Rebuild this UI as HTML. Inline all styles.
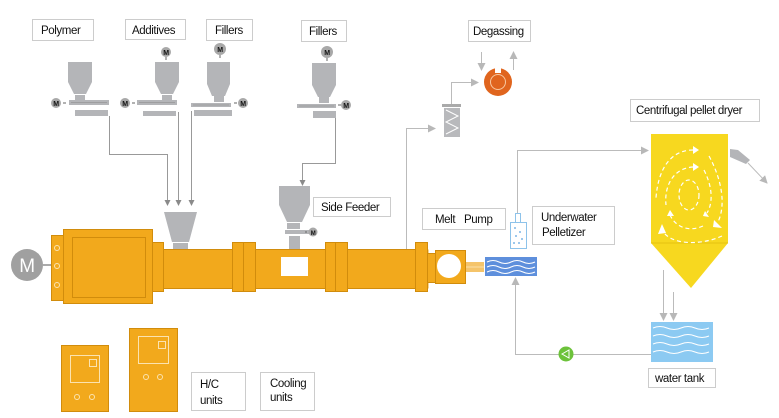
<!DOCTYPE html>
<html><head><meta charset="utf-8"><style>
html,body{margin:0;padding:0;background:#fff;}
svg{display:block;}
text{font-family:"Liberation Sans",sans-serif;font-size:11.5px;fill:#111;letter-spacing:-0.4px;}
</style></head><body>
<svg width="779" height="418" viewBox="0 0 779 418" xmlns="http://www.w3.org/2000/svg">
<defs>
<marker id="ar" markerWidth="6" markerHeight="6" refX="5" refY="3" orient="auto" markerUnits="userSpaceOnUse"><path d="M0,0 L6,3 L0,6 z" fill="#8a8a8a"/></marker>
<marker id="arl" markerWidth="8" markerHeight="8" refX="7" refY="4" orient="auto" markerUnits="userSpaceOnUse"><path d="M0,0 L8,4 L0,8 z" fill="#b8b8b8"/></marker>
</defs>
<g fill="#fff" stroke="#ccc" stroke-width="1">
<rect x="32.5" y="19.5" width="61" height="21"/>
<rect x="125.5" y="19.5" width="60" height="20"/>
<rect x="206.5" y="19.5" width="46" height="21"/>
<rect x="301.5" y="20.5" width="45" height="21"/>
<rect x="468.5" y="20.5" width="62" height="21"/>
<rect x="630.5" y="99.5" width="129" height="22"/>
<rect x="422.5" y="208.5" width="83" height="21"/>
<rect x="532.5" y="206.5" width="82" height="38"/>
<rect x="313.5" y="197.5" width="77" height="19"/>
<rect x="191.5" y="372.5" width="54" height="38"/>
<rect x="260.5" y="372.5" width="54" height="38"/>
<rect x="648.5" y="368.5" width="67" height="19"/>
</g>
<text x="41" y="34">Polymer</text>
<text x="132" y="34">Additives</text>
<text x="215" y="34">Fillers</text>
<text x="309" y="35">Fillers</text>
<text x="473" y="35">Degassing</text>
<text x="636" y="114">Centrifugal pellet dryer</text>
<text x="435" y="223">Melt</text><text x="464" y="223">Pump</text>
<text x="541" y="221">Underwater</text>
<text x="542" y="236">Pelletizer</text>
<text x="321" y="211">Side Feeder</text>
<text x="200" y="388">H/C</text>
<text x="200" y="404">units</text>
<text x="270" y="387">Cooling</text>
<text x="270" y="401">units</text>
<text x="655" y="382">water tank</text>

<g fill="none" stroke="#999" stroke-width="1">
<path d="M109.5,116 V154.5 H167.5 V205" marker-end="url(#ar)"/>
<path d="M178.5,112 V205" marker-end="url(#ar)"/>
<path d="M191.5,111 V205" marker-end="url(#ar)"/>
<path d="M335.5,118 V163.5 H302.5 V185" marker-end="url(#ar)"/>
</g>
<g fill="#b4b5b8">
<path d="M68,62 H92 V82 L86,94 H74 L68,82 z"/><rect x="75" y="95" width="10" height="5"/><rect x="69" y="100" width="40" height="5"/><rect x="75" y="110" width="33" height="6"/>
<path d="M155,62 H179 V82 L173,94 H161 L155,82 z"/><rect x="162" y="95" width="10" height="5"/><rect x="137" y="100" width="40" height="5"/><rect x="143" y="111" width="33" height="5"/>
<path d="M207,62 H230 V84 L225,96 H212 L207,84 z"/><rect x="214" y="96" width="10" height="6"/><rect x="191" y="103" width="40" height="4"/><rect x="194" y="110" width="38" height="6"/>
<path d="M312,63 H336 V85 L330,97 H318 L312,85 z"/><rect x="319" y="97" width="10" height="6"/><rect x="297" y="104" width="39" height="4"/><rect x="313" y="111" width="23" height="7"/>
<path d="M164,212 H197 L189,242 H172 z"/><rect x="173" y="243" width="15" height="6"/>
<path d="M279,186 H310 V205 L302,222 H287 L279,205 z"/><rect x="287" y="223" width="13" height="6"/><rect x="285" y="230" width="25" height="4"/><rect x="289" y="236" width="11" height="13"/>
</g>
<g stroke="#888" stroke-width="0.6" fill="none">
<path d="M71,102.5 H107 M139,102.5 H175 M193,105 H229 M299,106 H334"/>
</g>
<g font-weight="bold">
<g fill="#a8a8a8"><circle cx="56" cy="103" r="5"/><circle cx="125" cy="103" r="5"/><circle cx="166" cy="52" r="5"/><circle cx="220" cy="49" r="6"/><circle cx="243" cy="103" r="5"/><circle cx="327" cy="52" r="6"/><circle cx="346" cy="105" r="5"/><circle cx="313" cy="232" r="4.5"/></g>
<g text-anchor="middle" fill="#222">
<text x="56" y="106" style="font-size:7px">M</text><text x="125" y="106" style="font-size:7px">M</text><text x="166" y="55" style="font-size:7px">M</text><text x="220" y="52" style="font-size:7px">M</text><text x="243" y="106" style="font-size:7px">M</text><text x="327" y="55" style="font-size:7px">M</text><text x="346" y="108" style="font-size:7px">M</text><text x="313" y="235" style="font-size:6px">M</text>
</g></g>
<g stroke="#666" stroke-width="1"><path d="M63,103 H66 M132,103 H135 M234,103 H237 M338,105 H341 M305,232 H307 M220,55 V58 M166,57 V60 M327,58 V61"/></g>
<g fill="#f2a91c" stroke="#d18c0c" stroke-width="1">
<rect x="51.5" y="235.5" width="12" height="65"/>
<rect x="63.5" y="229.5" width="89" height="74"/>
<rect x="72.5" y="237.5" width="73" height="60" fill="none"/>
<rect x="152.5" y="249.5" width="276" height="39" stroke="none"/>
<rect x="152.5" y="242.5" width="11" height="49"/>
<rect x="232.5" y="242.5" width="23" height="49"/>
<rect x="325.5" y="242.5" width="22" height="49"/>
<rect x="415.5" y="242.5" width="12" height="49"/>
<path d="M243.5,242 V291 M335.5,242 V291 M163.5,249.5 H232.5 M255.5,249.5 H325.5 M347.5,249.5 H415.5 M163.5,288.5 H232.5 M255.5,288.5 H325.5 M347.5,288.5 H415.5" fill="none"/>
<rect x="427.5" y="253.5" width="8" height="29"/>
<rect x="435.5" y="250.5" width="30" height="33"/>
<rect x="61.5" y="345.5" width="47" height="66"/>
<rect x="129.5" y="328.5" width="48" height="83"/>
</g>
<rect x="466" y="262" width="18" height="10" fill="#f5c46a"/>
<path d="M466,267 H484" stroke="#fbe0a8"/>
<rect x="281" y="257" width="27" height="19" fill="#fff"/>
<circle cx="449" cy="266" r="12" fill="#fff"/>
<g fill="none" stroke="#fbe3b0" stroke-width="1">
<circle cx="57" cy="248" r="2.5"/><circle cx="57" cy="266" r="2.5"/><circle cx="57" cy="285" r="2.5"/>
<rect x="70.5" y="355.5" width="29" height="27"/><rect x="89.5" y="359.5" width="7" height="7"/>
<circle cx="77" cy="397" r="2.5"/><circle cx="92" cy="397" r="2.5"/>
<rect x="138.5" y="336.5" width="30" height="27"/><rect x="158.5" y="341.5" width="7" height="7"/>
<circle cx="146" cy="377" r="2.5"/><circle cx="160" cy="377" r="2.5"/>
</g>
<circle cx="27" cy="265" r="16" fill="#a0a0a0"/>
<text x="27" y="272" text-anchor="middle" style="font-size:19px;fill:#fff">M</text>
<path d="M43,265 H51" stroke="#555"/>
<g fill="none" stroke="#bbb" stroke-width="1">
<path d="M406.5,249 V128.5 H435" marker-end="url(#arl)"/>
<path d="M451.5,104 V82.5 H478" marker-end="url(#arl)"/>
<path d="M481.5,52 V70" marker-end="url(#arl)"/>
<path d="M513.5,70 V52" marker-end="url(#arl)"/>
<path d="M517.5,213 V150.5 H648" marker-end="url(#arl)"/>
<path d="M651,354.5 H515.5 V278" marker-end="url(#arl)"/>
<path d="M663.5,270 V320" marker-end="url(#arl)"/>
<path d="M673.5,292 V320" marker-end="url(#arl)"/>
<path d="M748,163 L767,183" marker-end="url(#arl)"/>
</g>
<rect x="442" y="104" width="19" height="3" fill="#aaa"/>
<rect x="444" y="108" width="16" height="29" fill="#b8b9bc"/>
<path d="M446,110 L458,116 L446,122 L458,128 L446,134" stroke="#fff" fill="none"/>
<circle cx="498" cy="82" r="14" fill="#e0651e"/>
<rect x="495" y="67" width="6" height="6" fill="#fff"/>
<circle cx="498" cy="82" r="7.5" fill="none" stroke="#f7c8a0" stroke-width="1"/>
<rect x="510.5" y="222.5" width="16" height="26" fill="#fff" stroke="#8ec3ea"/>
<rect x="515.5" y="213.5" width="5" height="9" fill="#fff" stroke="#8ec3ea"/>
<g fill="#7eb6e6"><circle cx="515" cy="228" r="1"/><circle cx="520" cy="232" r="1"/><circle cx="516" cy="236" r="1"/><circle cx="522" cy="239" r="1"/><circle cx="514" cy="243" r="1"/><circle cx="519" cy="243" r="1"/></g>
<rect x="485" y="257" width="52" height="19" fill="#5e8fdc"/>
<g stroke="#fff" fill="none" stroke-width="1">
<path d="M487,262 q6,-3 12,0 t12,0 t12,0 t12,0"/><path d="M487,267 q6,-3 12,0 t12,0 t12,0 t12,0"/><path d="M487,272 q6,-3 12,0 t12,0 t12,0 t12,0"/>
</g>
<path d="M651,134 H728 V243 L691,288 L651,243 z" fill="#f7d81f"/>
<path d="M651,243 H728" stroke="#e4c210"/>
<g fill="none" stroke="#fff" stroke-width="1.2" stroke-dasharray="4,3">
<path d="M693,150 C670,150 658,170 656,198"/>
<path d="M693,167 C674,168 664,185 666,205"/>
<ellipse cx="689" cy="195" rx="10" ry="15"/>
<path d="M709,156 C722,180 726,205 718,222"/>
<path d="M704,170 C714,190 712,205 707,213"/>
<path d="M722,236 C700,246 670,245 662,230"/>
<path d="M703,226 C690,232 676,228 670,215"/>
</g>
<g fill="#fff"><path d="M693,146 L699,150 L693,154z"/><path d="M693,163 L699,167 L693,171z"/><path d="M714,220 L722,228 L713,227z"/><path d="M705,211 L709,217 L703,216z"/><path d="M658,234 L662,224 L666,233z"/><path d="M667,216 L670,210 L674,216z"/></g>
<path d="M730,149 L738,150 L750,160 L746,164 L730,157z" fill="#b4b5b8"/>
<rect x="651" y="322" width="62" height="40" fill="#8ccaf2"/>
<g stroke="#fff" fill="none" stroke-width="1">
<path d="M653,328 q7,-3 14,0 t14,0 t14,0 t14,0"/><path d="M653,336 q7,-3 14,0 t14,0 t14,0 t14,0"/><path d="M653,344 q7,-3 14,0 t14,0 t14,0 t14,0"/><path d="M653,352 q7,-3 14,0 t14,0 t14,0 t14,0"/>
</g>
<circle cx="566" cy="354" r="7.5" fill="#6cc23a"/>
<path d="M562,354 L569,350 L569,358z" fill="none" stroke="#fff" stroke-width="1"/>
</svg>
</body></html>
